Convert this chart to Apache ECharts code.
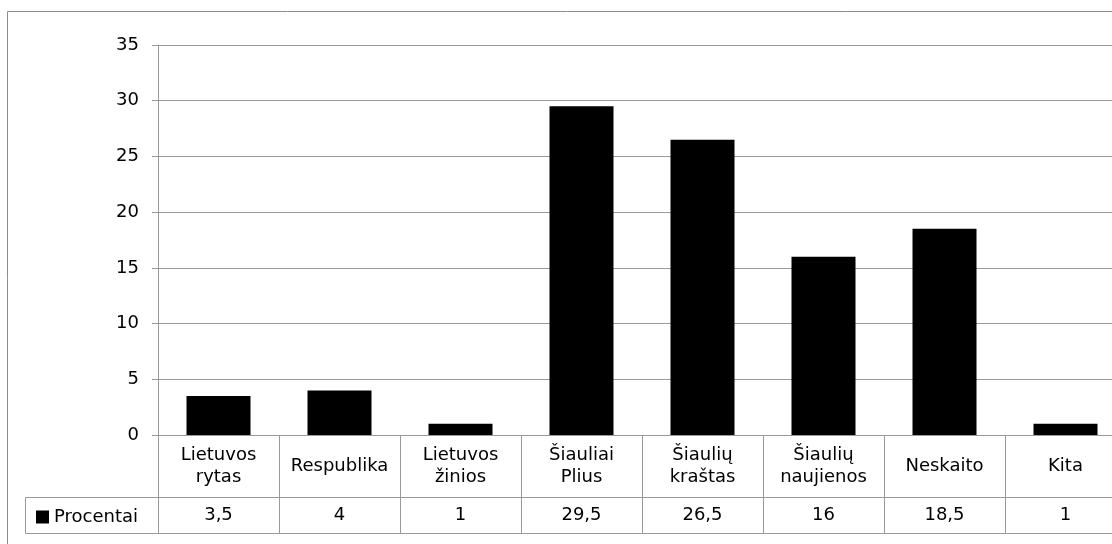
<!DOCTYPE html>
<html>
	<head>
		<meta charset="utf-8">
		<title></title>
		<script type="text/javascript" src="https://cdn.jsdelivr.net/npm/echarts@6/dist/echarts.min.js"></script>
		<style>
			html, body { margin: 0; padding: 0; background: #fff; overflow: hidden; }
		</style>
	</head>
	<body>
		<!-- paveikslas apkirptas dešinėje, todėl drobė platesnė už langą -->
		<div id="chart" style="width:1126px;height:544px;"></div>
		<script type="text/javascript">
			// duomenys
			var categories = ['Lietuvos rytas', 'Respublika', 'Lietuvos žinios', 'Šiauliai Plius',
				'Šiaulių kraštas', 'Šiaulių naujienos', 'Neskaito', 'Kita'];
			var values = [3.5, 4, 1, 29.5, 26.5, 16, 18.5, 1];
			var seriesName = 'Procentai';
			var yTicks = [0, 5, 10, 15, 20, 25, 30, 35];

			var font = 'DejaVu Sans';
			var fontSize = 18;
			var lineColor = '#999999';

			var myChart = echarts.init(document.getElementById('chart'));
			var option = {
				animation: false,
				textStyle: { fontFamily: font, color: '#000' },
				grid: {
					left: 158,
					right: 0,
					top: 45,
					bottom: 109
				},
				legend: {
					left: 31,
					top: 503,
					icon: 'rect',
					itemWidth: 13,
					itemHeight: 13,
					itemGap: 4,
					textStyle: { fontFamily: font, fontSize: fontSize, color: '#000' },
					data: [seriesName]
				},
				graphic: [{
					// išorinis rėmelis
					type: 'rect',
					shape: { x: 7.5, y: 11.5, width: 1200, height: 600 },
					style: { fill: 'none', stroke: '#8c8c8c', lineWidth: 1 },
					silent: true
				}, {
					// legendos langelis lentelėje
					type: 'rect',
					shape: { x: 25.5, y: 497.5, width: 133, height: 36 },
					style: { fill: 'none', stroke: lineColor, lineWidth: 1 },
					silent: true
				}],
				yAxis: {
					type: 'value',
					min: yTicks[0],
					max: yTicks[yTicks.length - 1],
					interval: yTicks[1] - yTicks[0],
					axisLine: { show: true, lineStyle: { color: lineColor } },
					axisTick: { show: true, length: 6, lineStyle: { color: lineColor } },
					splitLine: { show: true, lineStyle: { color: lineColor } },
					axisLabel: { fontSize: fontSize, color: '#000', margin: 19, fontFamily: font }
				},
				xAxis: [{
					// kategorijų eilutė
					type: 'category',
					data: categories,
					position: 'bottom',
					axisLine: { show: true, lineStyle: { color: lineColor } },
					axisTick: { show: true, interval: 0, length: 98, lineStyle: { color: lineColor } },
					axisLabel: {
						interval: 0,
						margin: 9,
						color: '#000',
						fontFamily: font,
						fontSize: fontSize,
						formatter: function(value) {
							if (value.indexOf(' ') >= 0) {
								return '{two|' + value.split(' ').join('\n') + '}';
							}
							return '{one|' + value + '}';
						},
						rich: {
							two: { fontSize: fontSize, lineHeight: 22, fontFamily: font, color: '#000' },
							one: { fontSize: fontSize, lineHeight: 44, fontFamily: font, color: '#000' }
						}
					}
				}, {
					// reikšmių eilutė
					type: 'category',
					data: categories,
					position: 'bottom',
					offset: 62,
					axisLine: { show: true, lineStyle: { color: lineColor } },
					axisTick: { show: false },
					axisLabel: {
						interval: 0,
						margin: 9,
						color: '#000',
						fontFamily: font,
						fontSize: fontSize,
						formatter: function(value, index) {
							return String(values[index]).replace('.', ',');
						}
					}
				}, {
					// apatinė lentelės linija
					type: 'category',
					data: categories,
					position: 'bottom',
					offset: 98,
					axisLine: { show: true, lineStyle: { color: lineColor } },
					axisTick: { show: false },
					axisLabel: { show: false }
				}],
				series: [{
					name: seriesName,
					type: 'bar',
					xAxisIndex: 0,
					barWidth: 64,
					itemStyle: { color: '#000' },
					data: values
				}]
			};
			myChart.setOption(option);
		</script>
	</body>
</html>
